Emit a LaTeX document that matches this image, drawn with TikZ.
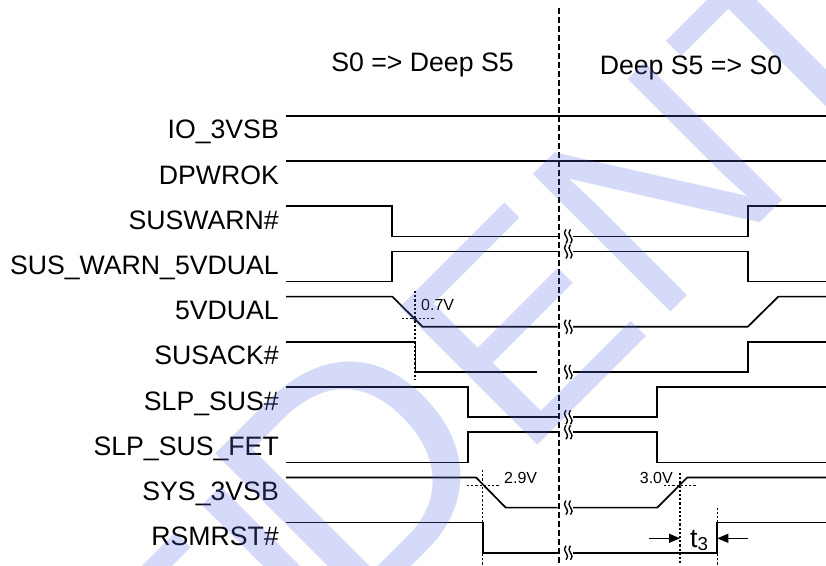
\documentclass[tikz,border=0pt]{standalone}
\usepackage{fontspec}
\setmainfont{Liberation Sans}
\usetikzlibrary{arrows.meta}
\definecolor{wm}{RGB}{87,107,227}
\newcommand\tdbreak[1]{%
  \draw[brk] plot[smooth] coordinates {(566,#1-7) (564.5,#1-3.5) (566,#1) (567.5,#1+3.5) (566,#1+7)};
  \draw[brk] plot[smooth] coordinates {(570.5,#1-7) (569,#1-3.5) (570.5,#1) (572,#1+3.5) (570.5,#1+7)};}
\begin{document}
\begin{tikzpicture}[x=1pt,y=-1pt,
  sig/.style={line width=1.7pt, line join=miter},
  brk/.style={line width=1.4pt},
  dotl/.style={line width=1.3pt, dash pattern=on 2.2pt off 2pt},
  sepline/.style={line width=1.8pt, dash pattern=on 6pt off 3pt},
  lbl/.style={anchor=base east, inner sep=0pt, font=\fontsize{26.67}{30}\selectfont},
  hdr/.style={anchor=base, inner sep=0pt, font=\fontsize{26.67}{30}\selectfont},
  volt/.style={inner sep=0pt, font=\fontsize{16}{18}\selectfont},
  tarrow/.style={line width=1.2pt, -{Triangle[length=11pt,width=9pt]}},
  wmark/.style={anchor=base west, inner sep=0pt, rotate=45, text=wm, opacity=0.25, text opacity=0.25}]
\useasboundingbox (0,0) rectangle (826,565);

% headers
\node[hdr] (h1) at (422.5,71) {S0 => Deep S5};
\node[hdr] (h2) at (691,74) {Deep S5 => S0};

% dashed separator
\coordinate (sepT) at (559,8);
\coordinate (sepB) at (559,565);
\draw[sepline] (sepT) -- (sepB);

% labels
\node[lbl] (l0) at (279,138.8) {IO\_3VSB};
\node[lbl] (l1) at (279,184) {DPWROK};
\node[lbl] (l2) at (279,229.2) {SUSWARN\#};
\node[lbl] (l3) at (279,274.4) {SUS\_WARN\_5VDUAL};
\node[lbl] (l4) at (279,319.6) {5VDUAL};
\node[lbl] (l5) at (279,364.8) {SUSACK\#};
\node[lbl] (l6) at (279,410) {SLP\_SUS\#};
\node[lbl] (l7) at (279,455.2) {SLP\_SUS\_FET};
\node[lbl] (l8) at (279,500.4) {SYS\_3VSB};
\node[lbl] (l9) at (279,545.6) {RSMRST\#};

% signals
\draw[sig] (286,115.8) -- (826,115.8);
\draw[sig] (286,161) -- (826,161);
\draw[sig] (286,206.2) -- (392.3,206.2) -- (392.3,236.4) -- (557.5,236.4);
\draw[sig] (573,236.4) -- (747.7,236.4) -- (747.7,206.2) -- (826,206.2);
\draw[sig] (286,281.6) -- (392.3,281.6) -- (392.3,251.4) -- (557.5,251.4);
\draw[sig] (573,251.4) -- (747.7,251.4) -- (747.7,281.6) -- (826,281.6);
\draw[sig] (286,296.6) -- (392.3,296.6) -- (422.7,326.8) -- (557.5,326.8);
\draw[sig] (573,326.8) -- (747.7,326.8) -- (778.3,296.6) -- (826,296.6);
\draw[sig] (286,341.8) -- (415.5,341.8) -- (415.5,372) -- (536.5,372);
\draw[sig] (573,372) -- (747.7,372) -- (747.7,341.8) -- (826,341.8);
\draw[sig] (286,387) -- (468.3,387) -- (468.3,417.2) -- (557.5,417.2);
\draw[sig] (573,417.2) -- (657.3,417.2) -- (657.3,387) -- (826,387);
\draw[sig] (286,462.4) -- (468.3,462.4) -- (468.3,432.2) -- (557.5,432.2);
\draw[sig] (573,432.2) -- (657.3,432.2) -- (657.3,462.4) -- (826,462.4);
\draw[sig] (286,477.4) -- (476,477.4) -- (505.7,507.6) -- (557.5,507.6);
\draw[sig] (573,507.6) -- (657.3,507.6) -- (687.3,477.4) -- (826,477.4);
\draw[sig] (286,522.6) -- (482.7,522.6) -- (482.7,552.8) -- (557.5,552.8);
\draw[sig] (573,552.8) -- (717.3,552.8) -- (717.3,522.6) -- (826,522.6);

% break marks
\tdbreak{236.4}
\tdbreak{251.4}
\tdbreak{326.8}
\tdbreak{372}
\tdbreak{417.2}
\tdbreak{432.2}
\tdbreak{507.6}
\tdbreak{552.8}

% threshold markers
\draw[dotl] (415,291) -- (415,380);
\draw[dotl] (402,318.7) -- (434,318.7);
\node[volt, anchor=base west] (v07) at (421,310) {0.7V};
\draw[dotl] (482.7,470) -- (482.7,565);
\draw[dotl] (467,485.7) -- (500,485.7);
\node[volt, anchor=base west] (v29) at (504,483.3) {2.9V};
\draw[dotl] (680,473) -- (680,565);
\draw[dotl] (664,485.7) -- (696,485.7);
\node[volt, anchor=base east] (v30) at (673,483.3) {3.0V};
\draw[dotl] (717.3,507.7) -- (717.3,565);

% t3
\coordinate (a1s) at (649,538.3);
\coordinate (a1e) at (680,538.3);
\coordinate (a2s) at (747.7,538.3);
\coordinate (a2e) at (717.3,538.3);
\draw[tarrow] (a1s) -- (a1e);
\draw[tarrow] (a2s) -- (a2e);
\node[anchor=base, inner sep=0pt, font=\fontsize{26.67}{30}\selectfont] (t3) at (699,547.3) {t\raisebox{-3.5pt}{\fontsize{18.7}{20}\selectfont 3}};

% watermark
\begin{scope}
\clip (0,0) rectangle (826,565);
\node[wmark, font=\fontsize{283}{300}\selectfont] (wmk) at (-245.7,1229) {CONFI\phantom{D}ENTIAL};
\node[wmark, font=\fontsize{317}{330}\selectfont] (wmd) at (351.3,626.4) {D};
\end{scope}
\end{tikzpicture}
\end{document}
